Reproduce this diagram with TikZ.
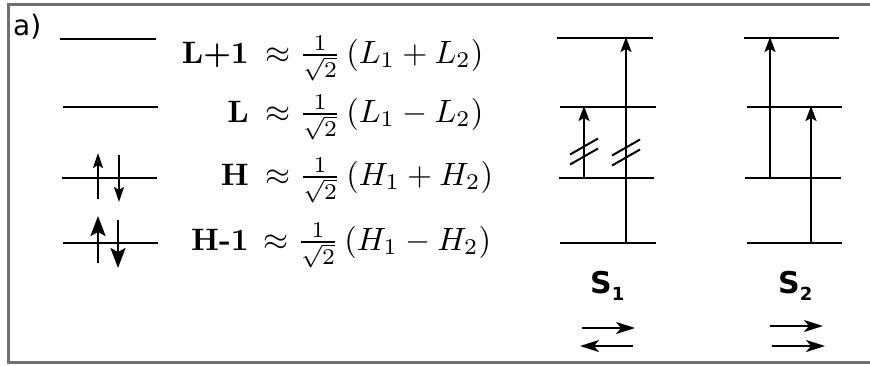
\documentclass[tikz,border=0pt]{standalone}
\usepackage{fontspec}
\usepackage{graphicx}
\newfontfamily\dvs{DejaVu Sans}
\newfontfamily\dvsb{DejaVu Sans Bold}
\usetikzlibrary{arrows.meta}
\definecolor{framegray}{RGB}{112,112,112}
\tikzset{
  level/.style={line width=2pt},
  trans/.style={line width=2.2pt,-{Stealth[length=15pt,width=11pt,inset=3pt]}},
  spinS/.style={line width=2.2pt,-{Stealth[length=15pt,width=10pt,inset=3pt]}},
  spinL/.style={line width=2.4pt,-{Stealth[length=20pt,width=15pt,inset=4pt]}},
  cut/.style={line width=2pt},
  dirarrow/.style={line width=2pt,-{Stealth[length=19pt,width=12pt,inset=5pt]}},
  eqtext/.style={inner sep=0pt},
  statelabel/.style={inner sep=0pt,font=\fontsize{30}{34}\selectfont\dvsb},
}
\newcommand{\mysub}[1]{\raisebox{-7pt}{\fontsize{18}{18}\selectfont #1}}
\newcommand{\eqlab}[1]{\scalebox{3.1}{#1}}
\newcommand{\eqbig}[1]{\scalebox{3.22}{#1}}
\begin{document}
\begin{tikzpicture}[x=1pt,y=-1pt]
\useasboundingbox (0,0) rectangle (870,365);
% frame
\draw[framegray,line width=3pt] (870,4.5) -- (8.5,4.5) -- (8.5,362.5) -- (870,362.5);
\node[anchor=base west,inner sep=0pt,font=\fontsize{28}{30}\selectfont\dvs] (lab) at (13,35) {a)};

% left orbital levels
\draw[level] (60,38.5) coordinate (lA1) -- (156,38.5) coordinate (lA2);
\draw[level] (63,107) coordinate (lB1) -- (158,107) coordinate (lB2);
\draw[level] (62,178) coordinate (lC1) -- (157,178) coordinate (lC2);
\draw[level] (63,243) coordinate (lD1) -- (158,243) coordinate (lD2);
% electrons
\coordinate (hu0) at (98,199); \coordinate (hu1) at (98,153);
\coordinate (hd0) at (119,155); \coordinate (hd1) at (119,202);
\coordinate (gu0) at (98,263); \coordinate (gu1) at (98,216);
\coordinate (gd0) at (118,220); \coordinate (gd1) at (118,268);
\draw[spinS] (hu0) -- (hu1);
\draw[spinS] (hd0) -- (hd1);
\draw[spinL] (gu0) -- (gu1);
\draw[spinL] (gd0) -- (gd1);

% equations
\node[eqtext,anchor=base east] (n1) at (249,63) {\eqlab{\textbf{L+1}}};
\node[eqtext,anchor=base west] (e1) at (265,63) {\eqbig{$\approx \frac{1}{\sqrt{2}}\left(L_1+L_2\right)$}};
\node[eqtext,anchor=base east] (n2) at (249,122) {\eqlab{\textbf{L}}};
\node[eqtext,anchor=base west] (e2) at (265,122) {\eqbig{$\approx \frac{1}{\sqrt{2}}\left(L_1-L_2\right)$}};
\node[eqtext,anchor=base east] (n3) at (249,185) {\eqlab{\textbf{H}}};
\node[eqtext,anchor=base west] (e3) at (265,185) {\eqbig{$\approx \frac{1}{\sqrt{2}}\left(H_1+H_2\right)$}};
\node[eqtext,anchor=base east] (n4) at (249,250) {\eqlab{\textbf{H-1}}};
\node[eqtext,anchor=base west] (e4) at (263,250) {\eqbig{$\approx \frac{1}{\sqrt{2}}\left(H_1-H_2\right)$}};

% S1 diagram
\draw[level] (557,38) -- (653,38);
\draw[level] (560,107) -- (656,107);
\draw[level] (559,178) -- (654,178);
\draw[level] (560,243) -- (656,243);
\coordinate (a1s) at (626,243); \coordinate (a1e) at (626,37);
\coordinate (a2s) at (584,178); \coordinate (a2e) at (584,106);
\draw[trans] (a1s) -- (a1e);
\draw[trans] (a2s) -- (a2e);
\draw[cut] ([shift={(-14,8)}]584,146.5) -- ([shift={(14,-8)}]584,146.5);
\draw[cut] ([shift={(-14,8)}]584,156.5) -- ([shift={(14,-8)}]584,156.5);
\draw[cut] ([shift={(-14,8)}]626,147.5) -- ([shift={(14,-8)}]626,147.5);
\draw[cut] ([shift={(-14,8)}]626,157.5) -- ([shift={(14,-8)}]626,157.5);
\node[statelabel,anchor=base west] (S1) at (590,293) {S\mysub{1}};
\coordinate (r1s) at (582,328); \coordinate (r1e) at (635,328);
\coordinate (l1s) at (633,346); \coordinate (l1e) at (580,346);
\draw[dirarrow] (r1s) -- (r1e);
\draw[dirarrow] (l1s) -- (l1e);

% S2 diagram
\draw[level] (744,38) -- (839,38);
\draw[level] (747,107) -- (842,107);
\draw[level] (745,178) -- (841,178);
\draw[level] (747,243) -- (842,243);
\coordinate (b1s) at (770,178); \coordinate (b1e) at (770,37);
\coordinate (b2s) at (811,243); \coordinate (b2e) at (811,106);
\draw[trans] (b1s) -- (b1e);
\draw[trans] (b2s) -- (b2e);
\node[statelabel,anchor=base west] (S2) at (778,293) {S\mysub{2}};
\coordinate (r2s) at (770,326); \coordinate (r2e) at (823,326);
\coordinate (r3s) at (772,346); \coordinate (r3e) at (825,346);
\draw[dirarrow] (r2s) -- (r2e);
\draw[dirarrow] (r3s) -- (r3e);
\end{tikzpicture}
\end{document}
